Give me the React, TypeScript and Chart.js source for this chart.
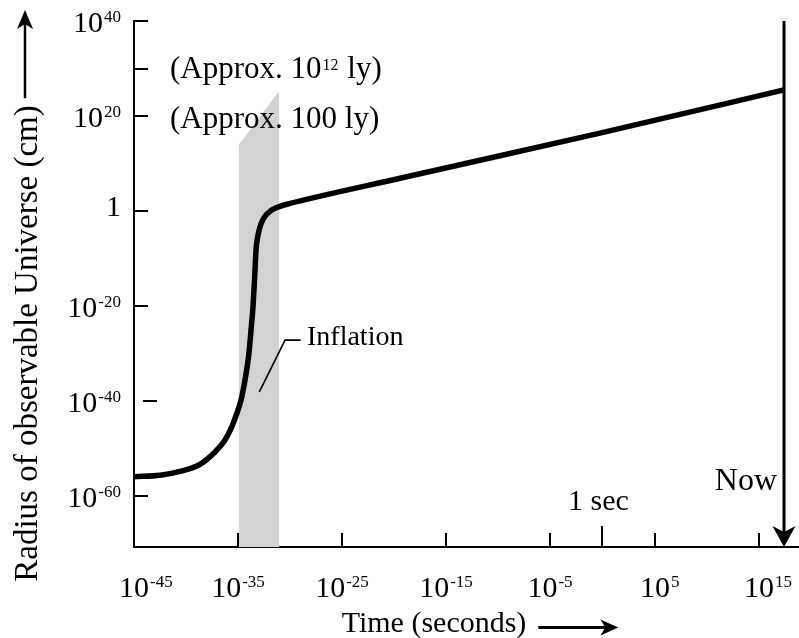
import React, { useEffect, useRef } from "react";
import { Chart, registerables } from "chart.js";

Chart.register(...registerables);

const FONT = '"Liberation Serif", "Times New Roman", serif';

// All values are base-10 exponents (log10 seconds, log10 cm)
const curveLogTime = [
  -45.0, -42.5, -40.58, -38.66, -37.22, -36.26, -35.59, -35.11, -34.72, -34.34, -34.0,
  -33.76, -33.57, -33.42, -33.28, -33.09, -32.8, -32.42, -31.84, -30.98, -30.01, -19.45,
  -0.24, 17.44,
];
const curveLogRadius = [
  -55.9, -55.6, -54.8, -53.3, -50.7, -48.2, -45.3, -42.5, -39.8, -35.6, -30.7, -25.1,
  -20.2, -14.5, -8.2, -5.1, -2.7, -1.1, 0.1, 1.0, 1.6, 6.9, 16.4, 25.5,
];

const shadeLogTime = [-34.94, -31.04];
const shadeTopLogRadius = [13.9, 25.3];

const xTickValues = [-45, -35, -25, -15, -5, 0, 5, 15];
const xTickLabels = ["10^-45", "10^-35", "10^-25", "10^-15", "10^-5", "", "10^5", "10^15"];
const yTickValues = [40, 30, 20, 0, -20, -40, -60];
const yTickLabels = ["10^40", "", "10^20", "1", "10^-20", "10^-40", "10^-60"];

const xRange = [-45, 18.88];
const yRange = [-70.7, 40];

const nowLogTime = 17.44;
const oneSecondLogTime = 0;

const xTitle = "Time (seconds)";
const yTitle = "Radius of observable Universe (cm)";

function drawPow(
  ctx: CanvasRenderingContext2D,
  label: string,
  x: number,
  baseline: number,
  align: "right" | "center" | "base",
  baseSize: number,
  supSize: number,
  raise: number
) {
  const [base, sup] = label.split("^");
  ctx.font = `${baseSize}px ${FONT}`;
  const wb = ctx.measureText(base).width;
  let ws = 0;
  if (sup) {
    ctx.font = `${supSize}px ${FONT}`;
    ws = ctx.measureText(sup).width + 1;
  }
  let left: number;
  if (align === "right") left = x - wb - ws;
  else if (align === "center") left = x - (wb + ws) / 2;
  else left = x - wb / 2;
  ctx.textAlign = "left";
  ctx.textBaseline = "alphabetic";
  ctx.font = `${baseSize}px ${FONT}`;
  ctx.fillText(base, left, baseline);
  if (sup) {
    ctx.font = `${supSize}px ${FONT}`;
    ctx.fillText(sup, left + wb + 1, baseline - raise);
  }
}

const overlay = {
  id: "overlay",
  afterDraw(chart: any) {
    const { ctx, chartArea } = chart;
    const xs = chart.scales.x;
    const ys = chart.scales.y;
    const X = (v: number) => xs.getPixelForValue(v);
    const Y = (v: number) => ys.getPixelForValue(v);
    ctx.save();
    ctx.strokeStyle = "#000";
    ctx.fillStyle = "#000";
    ctx.lineCap = "butt";

    // y ticks (inward) and labels
    ctx.lineWidth = 2;
    yTickValues.forEach((v, i) => {
      const py = Math.round(Y(v));
      const x0 = chartArea.left + (v === -40 ? 9 : 0);
      ctx.beginPath();
      ctx.moveTo(x0, py);
      ctx.lineTo(x0 + 14, py);
      ctx.stroke();
      const lab = yTickLabels[i];
      if (lab) {
        drawPow(ctx, lab, chartArea.left - 13, py + (lab === "1" ? 5 : 11), "right", 30, 17, 10);
      }
    });

    // x ticks (inward) and labels
    xTickValues.forEach((v, i) => {
      const px = Math.round(X(v));
      const len = v === oneSecondLogTime ? 21 : 14;
      if (v > xRange[0]) {
        ctx.beginPath();
        ctx.moveTo(px, chartArea.bottom);
        ctx.lineTo(px, chartArea.bottom - len);
        ctx.stroke();
      }
      const lab = xTickLabels[i];
      if (lab) {
        const align = v >= 0 || v === xRange[0] ? "base" : "center";
        drawPow(ctx, lab, px, chartArea.bottom + 49.5, align, 30, 17, 9.5);
      }
    });

    // "Now" arrow
    const nx = X(nowLogTime);
    const bottom = chartArea.bottom;
    ctx.lineWidth = 3;
    ctx.beginPath();
    ctx.moveTo(nx, Y(yRange[1]));
    ctx.lineTo(nx, bottom - 14);
    ctx.stroke();
    ctx.beginPath();
    ctx.moveTo(nx, bottom);
    ctx.lineTo(nx - 11.5, bottom - 21);
    ctx.lineTo(nx, bottom - 15);
    ctx.lineTo(nx + 11.5, bottom - 21);
    ctx.closePath();
    ctx.fill();

    // Annotations
    ctx.textBaseline = "alphabetic";
    ctx.textAlign = "right";
    ctx.font = `32px ${FONT}`;
    ctx.fillText("Now", X(16.77), Y(-58.74));

    ctx.textAlign = "left";
    ctx.font = `30px ${FONT}`;
    ctx.fillText("1 sec", X(-3.31), Y(-62.95));

    ctx.font = `28px ${FONT}`;
    ctx.fillText("Inflation", X(-28.38), Y(-28.2));

    // leader line for Inflation
    ctx.lineWidth = 1.6;
    ctx.beginPath();
    ctx.moveTo(X(-32.96), Y(-38.04));
    ctx.lineTo(X(-30.49), Y(-27.16));
    ctx.lineTo(X(-28.99), Y(-27.16));
    ctx.stroke();

    // Approx labels
    const ax = X(-41.54);
    ctx.font = `31px ${FONT}`;
    const p1 = "(Approx. 10";
    const w1 = ctx.measureText(p1).width;
    ctx.fillText(p1, ax, Y(27.94));
    ctx.font = `16px ${FONT}`;
    ctx.fillText("12", ax + w1 + 1, Y(27.94) - 8);
    const w2 = ctx.measureText("12").width;
    ctx.font = `31px ${FONT}`;
    ctx.fillText(" ly)", ax + w1 + w2 + 2, Y(27.94));
    ctx.fillText("(Approx. 100 ly)", ax, Y(17.54));

    // x title with arrow
    ctx.font = `30px ${FONT}`;
    const tw = ctx.measureText(xTitle).width;
    const tcx = 434;
    const tby = 631.5;
    ctx.fillText(xTitle, tcx - tw / 2, tby);
    const a0 = tcx + tw / 2 + 12;
    const a1 = a0 + 80;
    const ay = tby - 4;
    ctx.lineWidth = 3;
    ctx.beginPath();
    ctx.moveTo(a0, ay);
    ctx.lineTo(a1 - 10, ay);
    ctx.stroke();
    ctx.beginPath();
    ctx.moveTo(a1, ay);
    ctx.lineTo(a1 - 18, ay - 8);
    ctx.lineTo(a1 - 13, ay);
    ctx.lineTo(a1 - 18, ay + 8);
    ctx.closePath();
    ctx.fill();

    // y title with arrow
    ctx.save();
    ctx.translate(37, 343.5);
    ctx.rotate(-Math.PI / 2);
    ctx.font = `33px ${FONT}`;
    const yw = ctx.measureText(yTitle).width;
    ctx.textAlign = "center";
    ctx.fillText(yTitle, 0, 0);
    ctx.restore();
    const yax = 25;
    const yTop = 10;
    ctx.lineWidth = 2.5;
    ctx.beginPath();
    ctx.moveTo(yax, 343.5 - yw / 2 - 7);
    ctx.lineTo(yax, yTop + 12);
    ctx.stroke();
    ctx.beginPath();
    ctx.moveTo(yax, yTop);
    ctx.lineTo(yax - 8, yTop + 19);
    ctx.lineTo(yax, yTop + 14);
    ctx.lineTo(yax + 8, yTop + 19);
    ctx.closePath();
    ctx.fill();

    ctx.restore();
  },
};

export default function App() {
  const canvasRef = useRef<HTMLCanvasElement | null>(null);

  useEffect(() => {
    document.body.style.margin = "0";
    const canvas = canvasRef.current;
    if (!canvas) return;
    const chart = new Chart(canvas, {
      type: "line",
      data: {
        datasets: [
          {
            data: curveLogTime.map((t, i) => ({ x: t, y: curveLogRadius[i] })),
            borderColor: "#000",
            borderWidth: 5.5,
            cubicInterpolationMode: "monotone",
            pointRadius: 0,
            fill: false,
            order: 0,
            borderCapStyle: "butt",
            borderJoinStyle: "round",
          },
          {
            data: shadeLogTime.map((t, i) => ({ x: t, y: shadeTopLogRadius[i] })),
            borderColor: "transparent",
            borderWidth: 0,
            backgroundColor: "#d1d3d4",
            fill: "start",
            pointRadius: 0,
            tension: 0,
            order: 1,
          },
        ],
      },
      options: {
        animation: false,
        responsive: false,
        devicePixelRatio: 1,
        layout: { padding: { top: 21, left: 0, right: 0, bottom: 0 } },
        plugins: {
          legend: { display: false },
          tooltip: { enabled: false },
          title: { display: false },
        },
        scales: {
          x: {
            type: "linear",
            position: "bottom",
            min: xRange[0],
            max: xRange[1],
            grid: { display: false },
            ticks: { display: false },
            border: { display: true, color: "#000", width: 2 },
            afterFit: (s: any) => {
              s.height = 91;
            },
          },
          y: {
            type: "linear",
            position: "left",
            min: yRange[0],
            max: yRange[1],
            grid: { display: false },
            ticks: { display: false },
            border: { display: true, color: "#000", width: 2 },
            afterFit: (s: any) => {
              s.width = 134;
            },
          },
        },
      } as any,
      plugins: [overlay],
    });
    return () => chart.destroy();
  }, []);

  return (
    <div style={{ width: 799, height: 638, background: "#fff" }}>
      <canvas ref={canvasRef} width={799} height={638} style={{ display: "block" }} />
    </div>
  );
}
